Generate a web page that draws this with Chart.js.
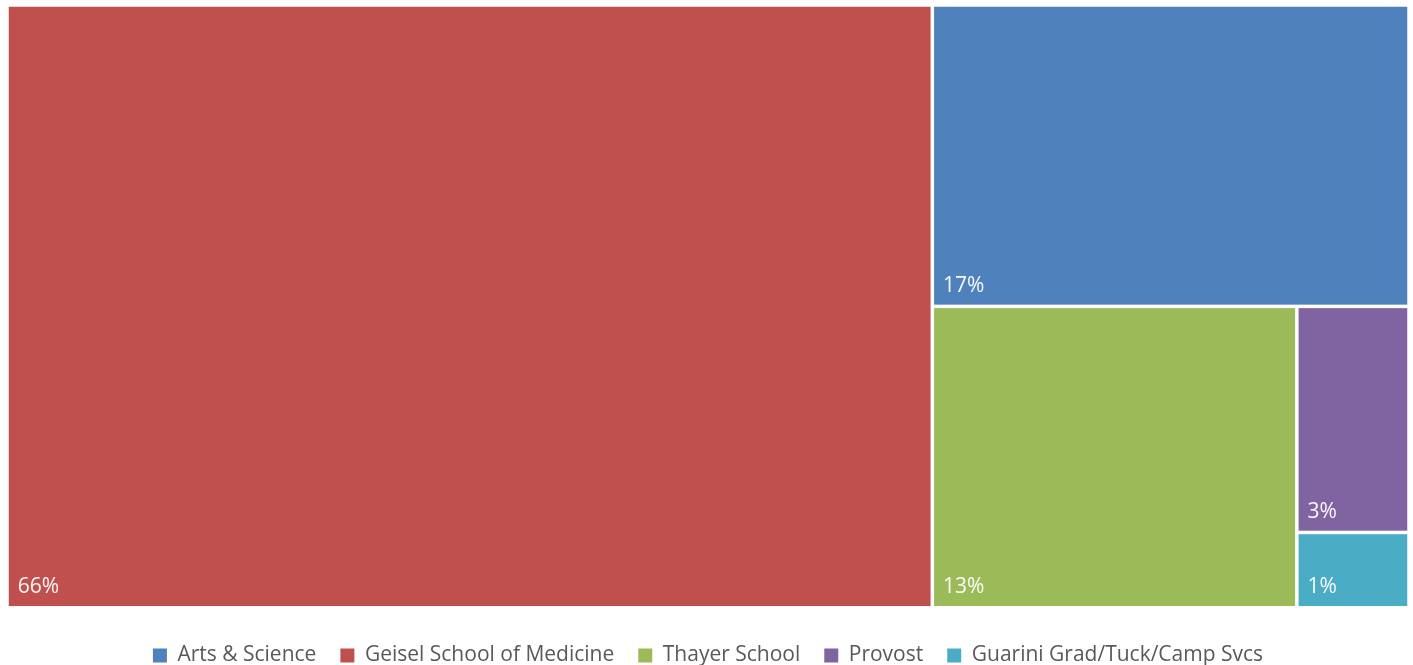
<!DOCTYPE html>
<html>
<head>
<meta charset="utf-8">
<script src="https://cdn.jsdelivr.net/npm/chart.js@4"></script>
<style>
html,body{margin:0;padding:0;background:#fff;}
#wrap{width:1413px;height:665px;position:relative;}
</style>
</head>
<body>
<div id="wrap"><canvas id="c"></canvas></div>
<script>
const categories = ["Arts & Science", "Geisel School of Medicine", "Thayer School", "Provost", "Guarini Grad/Tuck/Camp Svcs"];
const shares = [17, 66, 13, 3, 1];
const colors = ["#4F81BD", "#C0504D", "#9BBB59", "#8064A2", "#4BACC6"];

function worst(row, side) {
  const s = row.reduce((a, b) => a + b.area, 0);
  let mx = -Infinity, mn = Infinity;
  row.forEach(r => { mx = Math.max(mx, r.area); mn = Math.min(mn, r.area); });
  return Math.max(side * side * mx / (s * s), (s * s) / (side * side * mn));
}
function squarify(items, x, y, w, h) {
  const out = [];
  let rest = items.slice();
  while (rest.length) {
    const side = Math.min(w, h);
    let row = [rest[0]];
    let i = 1;
    while (i < rest.length) {
      const cand = row.concat([rest[i]]);
      if (worst(cand, side) <= worst(row, side)) { row = cand; i++; } else break;
    }
    rest = rest.slice(row.length);
    const s = row.reduce((a, b) => a + b.area, 0);
    if (w >= h) {
      const cw = s / h; let cy = y;
      row.forEach(r => { const rh = r.area / cw; out.push({ ...r, x: x, y: cy, w: cw, h: rh }); cy += rh; });
      x += cw; w -= cw;
    } else {
      const rh = s / w; let cx = x;
      row.forEach(r => { const rw = r.area / rh; out.push({ ...r, x: cx, y: y, w: rw, h: rh }); cx += rw; });
      y += rh; h -= rh;
    }
  }
  return out;
}

const treemapPlugin = {
  id: 'treemap',
  afterDatasetsDraw(chart) {
    const ca = chart.chartArea;
    const xs = chart.scales.x, ys = chart.scales.y;
    const W = ca.right - ca.left, H = ca.bottom - ca.top;
    const total = shares.reduce((a, b) => a + b, 0);
    const items = shares.map((v, i) => ({ i, v, area: v / total * W * H }))
      .sort((a, b) => b.v - a.v);
    const rects = squarify(items, 0, 0, W, H);
    const ctx = chart.ctx;
    const g = 1.75;
    ctx.save();
    rects.forEach(r => {
      const x0 = xs.getPixelForValue(r.x / W * 100) + g;
      const x1 = xs.getPixelForValue((r.x + r.w) / W * 100) - g;
      const y0 = ys.getPixelForValue(r.y / H * 100) + g;
      const y1 = ys.getPixelForValue((r.y + r.h) / H * 100) - g;
      ctx.fillStyle = colors[r.i];
      ctx.fillRect(x0, y0, x1 - x0, y1 - y0);
      ctx.fillStyle = "rgba(255,255,255,0.95)";
      ctx.font = "21px 'Open Sans', 'Noto Sans', sans-serif";
      ctx.textBaseline = "alphabetic";
      ctx.textAlign = "left";
      ctx.fillText(Math.round(r.v) + "%", x0 + 9, y1 - 13);
    });
    ctx.restore();
  }
};

new Chart(document.getElementById('c'), {
  type: 'scatter',
  data: {
    datasets: categories.map((c, i) => ({
      label: c, data: [], backgroundColor: colors[i], borderColor: colors[i], borderWidth: 0
    }))
  },
  options: {
    responsive: true,
    maintainAspectRatio: false,
    animation: false,
    layout: { padding: { left: 7, right: 4, top: 5, bottom: -11 } },
    scales: {
      x: { type: 'linear', min: 0, max: 100, display: false },
      y: { type: 'linear', min: 0, max: 100, reverse: true, display: false }
    },
    plugins: {
      tooltip: { enabled: false },
      legend: {
        position: 'bottom',
        onClick: null,
        title: { display: true, text: '', font: { size: 1 }, padding: { top: 0, bottom: 12 } },
        labels: {
          boxWidth: 14, boxHeight: 14, padding: 24,
          color: '#595959',
          font: { size: 21, family: "'Open Sans', 'Noto Sans', sans-serif" }
        }
      }
    }
  },
  plugins: [treemapPlugin]
});
</script>
</body>
</html>
